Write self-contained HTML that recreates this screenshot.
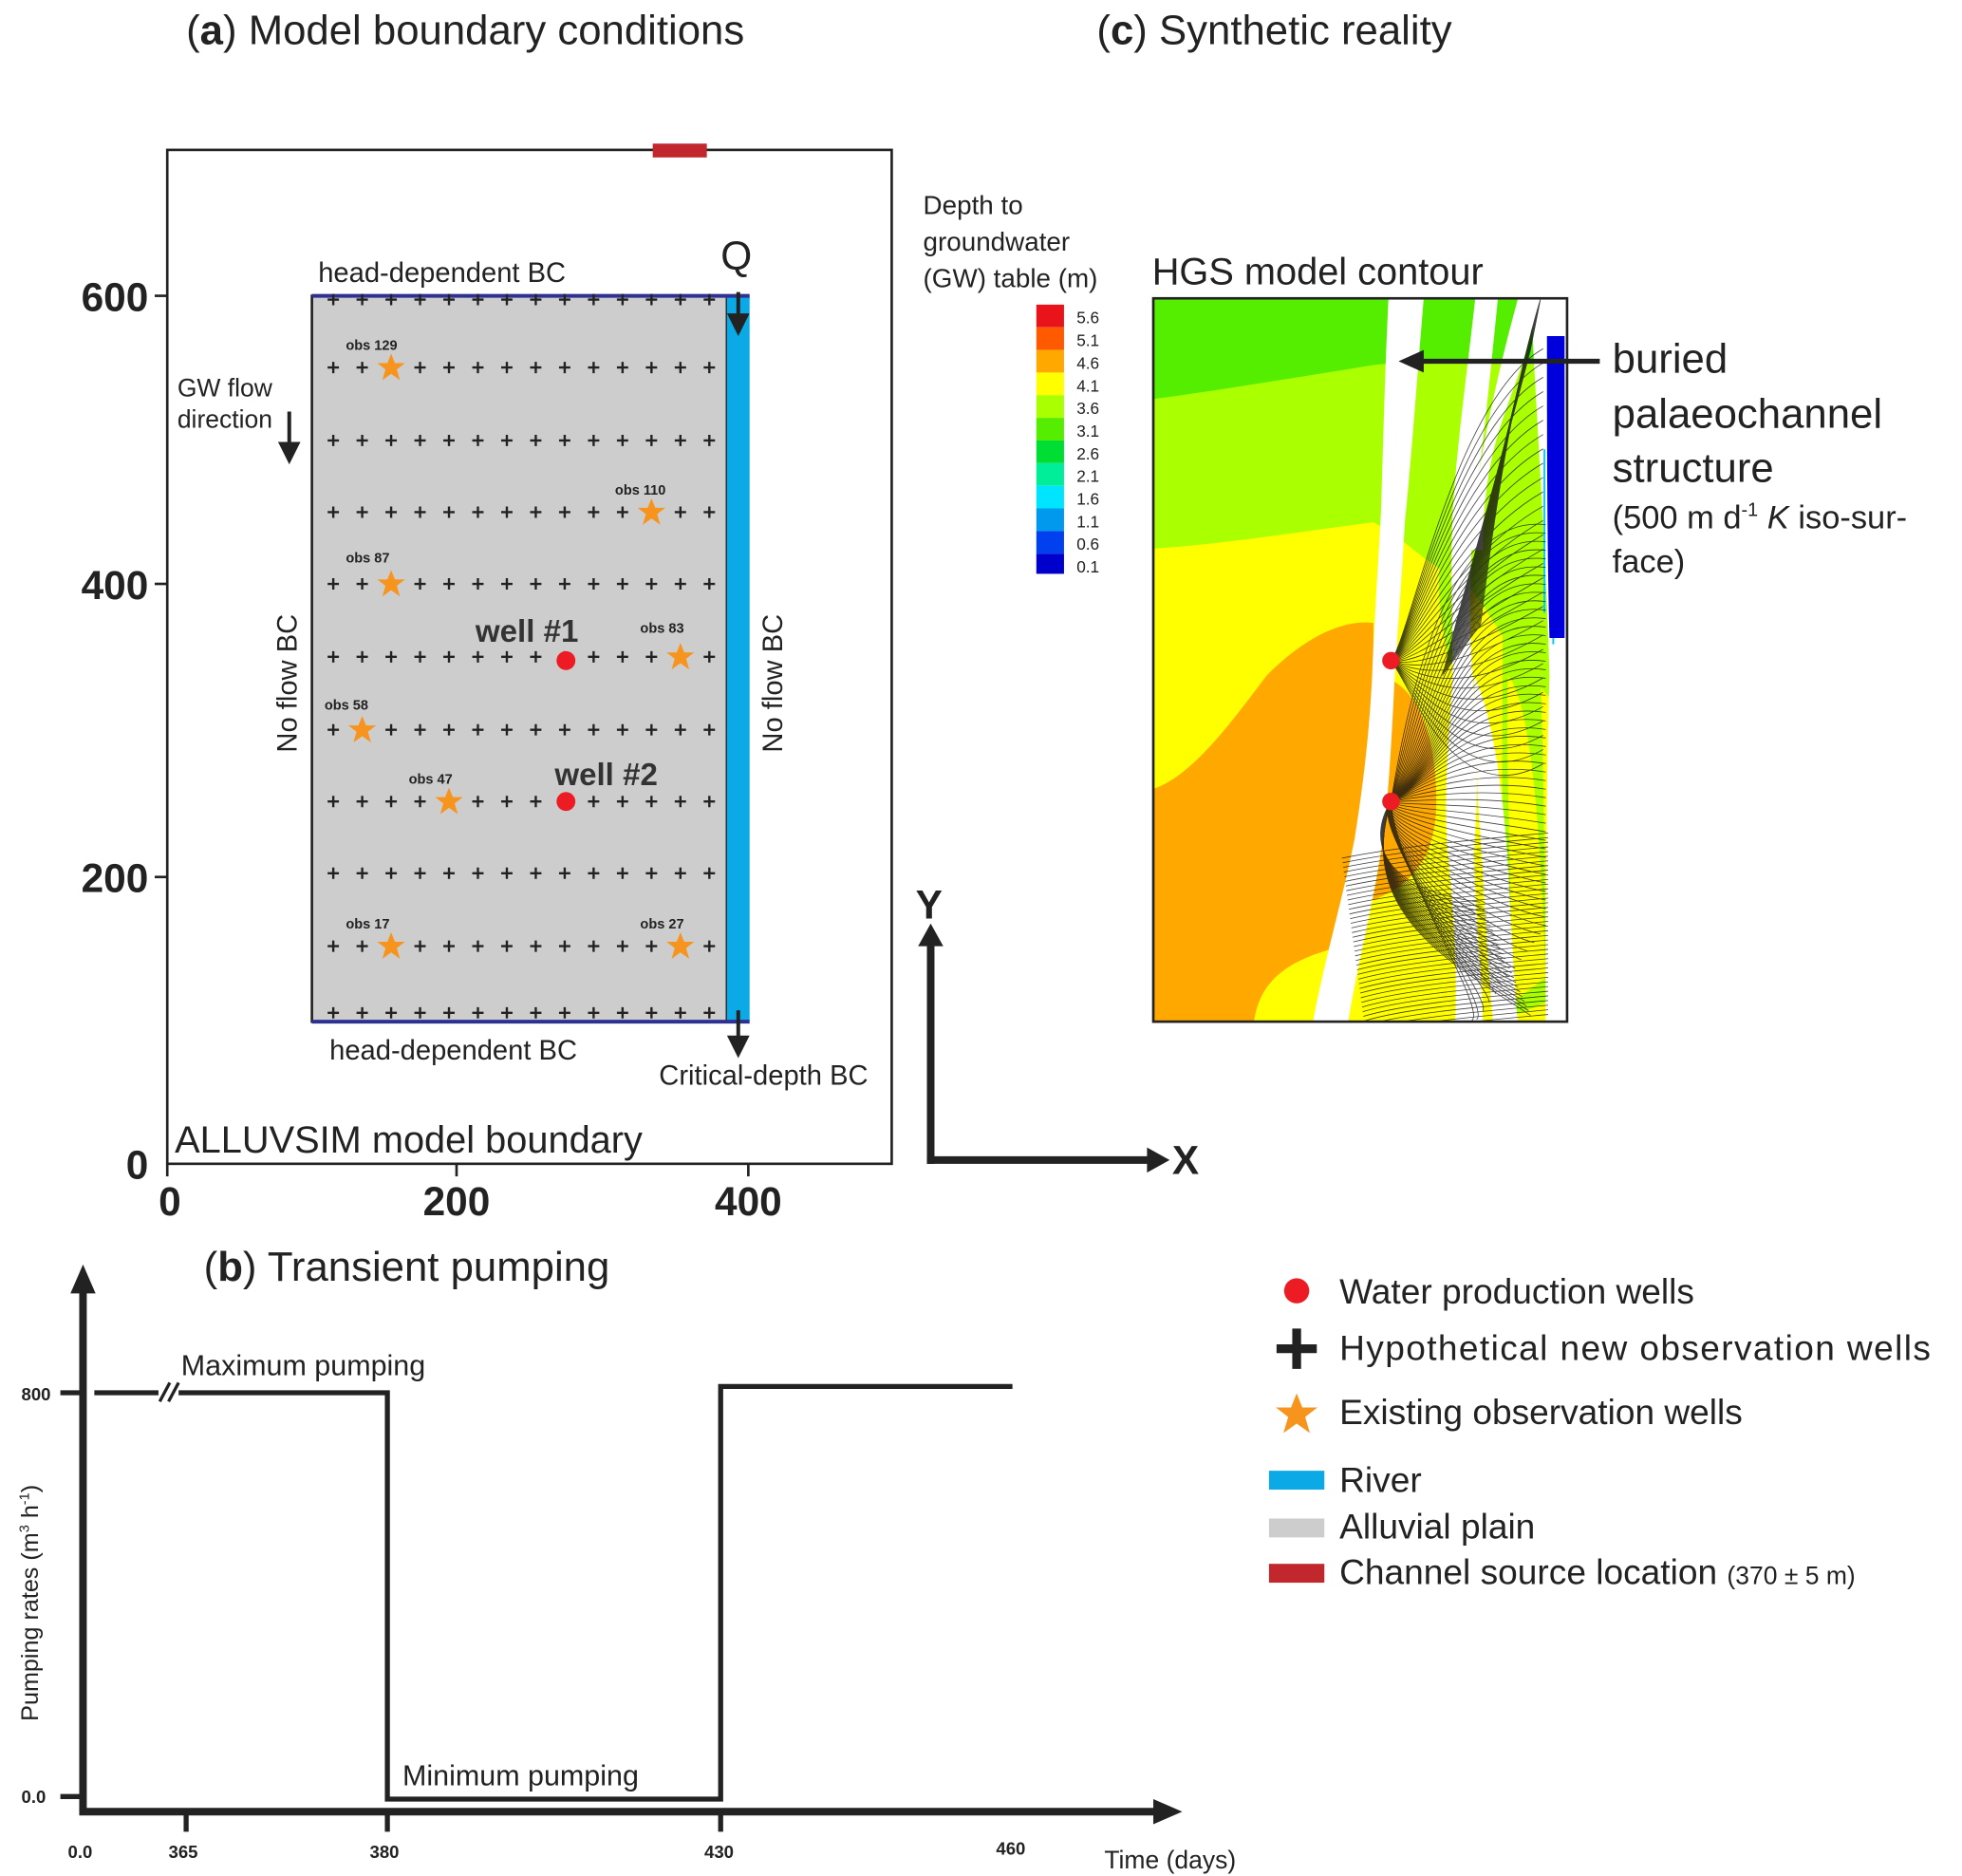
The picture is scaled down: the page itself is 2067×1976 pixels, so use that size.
<!DOCTYPE html>
<html><head><meta charset="utf-8"><style>html,body{margin:0;padding:0;background:#fff}svg{display:block}text{font-family:"Liberation Sans",Arial,sans-serif}</style></head><body>
<svg width="2067" height="1976" viewBox="0 0 1560 1491" xmlns="http://www.w3.org/2000/svg">
<defs>
<marker id="ah" markerWidth="6" markerHeight="6" refX="3" refY="3" orient="auto" markerUnits="strokeWidth"><path d="M0,0 L6,3 L0,6 z" fill="#222"/></marker>
<g id="st"><path d="M0,-11 L3,-3.5 L11,-3.5 L4.5,1.5 L7,10 L0,5 L-7,10 L-4.5,1.5 L-11,-3.5 L-3,-3.5 z" fill="#f7941d"/></g>
</defs>
<text x="148" y="35" font-size="33" fill="#222">(<tspan font-weight="bold">a</tspan>) Model boundary conditions</text>
<text x="872" y="35" font-size="33" fill="#222">(<tspan font-weight="bold">c</tspan>) Synthetic reality</text>
<text x="162" y="1018" font-size="33" fill="#222">(<tspan font-weight="bold">b</tspan>) Transient pumping</text>

<!-- panel a -->
<rect x="133" y="119" width="576" height="806" fill="none" stroke="#222" stroke-width="2"/>
<rect x="519" y="114" width="43" height="11" fill="#c1272d"/>
<rect x="248" y="235" width="330" height="577" fill="#cdcdcd" stroke="#222" stroke-width="2"/>
<rect x="578" y="235" width="18" height="577" fill="#0ba9e6"/>
<line x1="248" y1="235" x2="596" y2="235" stroke="#2e3192" stroke-width="3"/>
<line x1="248" y1="812" x2="596" y2="812" stroke="#2e3192" stroke-width="3"/>
<g font-weight="bold" font-size="32" fill="#222" text-anchor="end">
<text x="118" y="247">600</text><text x="118" y="476">400</text><text x="118" y="709">200</text><text x="118" y="937">0</text></g>
<g stroke="#222" stroke-width="2"><line x1="123" y1="235" x2="133" y2="235"/><line x1="123" y1="464" x2="133" y2="464"/><line x1="123" y1="697" x2="133" y2="697"/><line x1="133" y1="925" x2="133" y2="935"/><line x1="363" y1="925" x2="363" y2="935"/><line x1="595" y1="925" x2="595" y2="935"/></g>
<g font-weight="bold" font-size="32" fill="#222" text-anchor="middle"><text x="135" y="966">0</text><text x="363" y="966">200</text><text x="595" y="966">400</text></g>
<g id="crosses"></g>
<g>
<use href="#st" x="311" y="292"/><use href="#st" x="518" y="407"/><use href="#st" x="311" y="464"/><use href="#st" x="541" y="522"/><use href="#st" x="288" y="580"/><use href="#st" x="357" y="637"/><use href="#st" x="311" y="752"/><use href="#st" x="541" y="752"/>
</g>
<g font-size="11" font-weight="bold" fill="#222">
<text x="275" y="278">obs 129</text><text x="489" y="393">obs 110</text><text x="275" y="447">obs 87</text><text x="509" y="503">obs 83</text><text x="258" y="564">obs 58</text><text x="325" y="623">obs 47</text><text x="275" y="738">obs 17</text><text x="509" y="738">obs 27</text></g>
<circle cx="450" cy="525" r="7.5" fill="#ed1c24"/><circle cx="450" cy="637" r="7.5" fill="#ed1c24"/>
<text x="378" y="510" font-size="25" font-weight="bold" fill="#333">well #1</text>
<text x="441" y="624" font-size="25" font-weight="bold" fill="#333">well #2</text>
<text x="253" y="224" font-size="22" fill="#222">head-dependent BC</text>
<text x="262" y="842" font-size="22" fill="#222">head-dependent BC</text>
<text x="524" y="862" font-size="22" fill="#222">Critical-depth BC</text>
<text x="139" y="916" font-size="30" fill="#222">ALLUVSIM model boundary</text>
<text x="573" y="214" font-size="32" fill="#222">Q</text>
<line x1="587" y1="232" x2="587" y2="258" stroke="#222" stroke-width="3" marker-end="url(#ah)"/>
<line x1="587" y1="803" x2="587" y2="832" stroke="#222" stroke-width="3" marker-end="url(#ah)"/>
<text x="141" y="315" font-size="20" fill="#222">GW  flow</text>
<text x="141" y="340" font-size="20" fill="#222">direction</text>
<line x1="230" y1="327" x2="230" y2="360" stroke="#222" stroke-width="3" marker-end="url(#ah)"/>
<text transform="translate(236,598) rotate(-90)" font-size="22" fill="#222">No flow BC</text>
<text transform="translate(622,598) rotate(-90)" font-size="22" fill="#222">No flow BC</text>

<!-- XY axes -->
<path d="M740,925 V750" stroke="#222" stroke-width="6" fill="none"/><path d="M730,752 L740,734 L750,752 z" fill="#222"/>
<path d="M737,922 H915" stroke="#222" stroke-width="6" fill="none"/><path d="M912,912 L930,922 L912,932 z" fill="#222"/>
<text x="728" y="730" font-size="32" font-weight="bold" fill="#222">Y</text>
<text x="932" y="933" font-size="32" font-weight="bold" fill="#222">X</text>

<!-- panel c colorbar -->
<text x="734" y="170" font-size="21" fill="#222">Depth to</text>
<text x="734" y="199" font-size="21" fill="#222">groundwater</text>
<text x="734" y="228" font-size="21" fill="#222">(GW) table (m)</text>
<g>
<rect x="824" y="242" width="22" height="18" fill="#e8141a"/><rect x="824" y="260" width="22" height="18" fill="#ff5a00"/><rect x="824" y="278" width="22" height="18" fill="#ffa800"/><rect x="824" y="296" width="22" height="18" fill="#ffff00"/><rect x="824" y="314" width="22" height="18" fill="#aaff00"/><rect x="824" y="332" width="22" height="18" fill="#55ee00"/><rect x="824" y="350" width="22" height="18" fill="#00dd33"/><rect x="824" y="368" width="22" height="18" fill="#00ee99"/><rect x="824" y="386" width="22" height="18" fill="#00e5ff"/><rect x="824" y="404" width="22" height="18" fill="#0099ee"/><rect x="824" y="422" width="22" height="18" fill="#0040ee"/><rect x="824" y="440" width="22" height="16" fill="#0000cc"/>
</g>
<g font-size="13" fill="#222"><text x="856" y="257">5.6</text><text x="856" y="275">5.1</text><text x="856" y="293">4.6</text><text x="856" y="311">4.1</text><text x="856" y="329">3.6</text><text x="856" y="347">3.1</text><text x="856" y="365">2.6</text><text x="856" y="383">2.1</text><text x="856" y="401">1.6</text><text x="856" y="419">1.1</text><text x="856" y="437">0.6</text><text x="856" y="455">0.1</text></g>
<text x="916" y="226" font-size="30" fill="#222">HGS model contour</text>

<!-- contour map -->
<svg x="917" y="237" width="329" height="575" viewBox="0 0 329 575">
<rect width="329" height="575" fill="#ffa800"/>
<path d="M0,0 H329 V575 H155 C165,500 175,420 175,258 C150,255 120,270 90,300 C60,340 30,380 0,390 Z" fill="#ffff00"/>
<path d="M0,0 H329 V330 C290,300 260,230 240,220 C220,215 200,190 175,178 C120,185 60,195 0,199 Z" fill="#aaff00"/>
<path d="M0,0 H329 V50 C250,52 200,50 175,53 C100,65 40,75 0,80 Z" fill="#55ee00"/>
<path d="M175,300 C200,300 225,330 225,400 C225,450 200,470 170,480 Z" fill="#ffa800"/>
<path d="M80,575 C85,540 110,525 150,515 L150,575 Z" fill="#ffff00"/>
<!-- right zones -->
<path d="M245,0 C260,60 300,80 310,0 Z" fill="#55ee00"/>
<path d="M285,90 C300,120 310,200 312,560 L275,575 C280,480 275,300 280,160 Z" fill="#aaff00"/>
<path d="M282,300 C300,320 308,420 312,540 L285,560 C285,460 280,380 282,300 Z" fill="#ffff00"/>
<path d="M228,210 C245,230 255,250 250,280 L235,290 C230,260 225,240 228,210 Z" fill="#aaff00"/>
<!-- channels (white) -->
<path d="M187,0 H215 C210,60 205,130 200,178 C197,230 194,270 192,300 C190,340 188,380 184,420 C176,480 162,530 155,575 H127 C135,530 150,480 160,430 C168,380 172,340 174,300 C176,250 179,210 181,170 C183,110 184,60 187,0 Z" fill="#fff"/>
<path d="M256,0 H274 C268,60 262,120 255,170 C250,230 252,280 255,310 C258,360 258,400 255,440 C256,500 262,540 262,575 H240 C242,530 238,480 234,440 C230,390 236,340 238,300 C238,250 236,220 238,170 C242,110 250,55 256,0 Z" fill="#fff"/>
<path d="M300,0 H329 V575 H312 C312,470 313,360 315,300 C312,200 305,100 300,0 Z" fill="#fff"/>
<path d="M290,0 H305 C300,40 290,60 280,90 C265,130 262,170 262,200 L252,200 C255,150 268,80 290,0 Z" fill="#fff"/>
<path d="M255,300 C270,330 280,400 283,470 C286,520 288,560 290,575 H270 C265,520 262,450 258,400 Z" fill="#fff"/>
<path d="M313,30 H327 V270 H315 C313,200 313,100 313,30 Z" fill="#0000dd"/>
<path d="M318,270 V275 M311,120 V250" stroke="#00ccff" stroke-width="1.5"/>
<g id="streams" stroke="#111" stroke-width="0.6" fill="none" opacity="0.8"></g>
<circle cx="189" cy="288" r="7" fill="#ed1c24"/><circle cx="189" cy="400" r="7" fill="#ed1c24"/>
</svg>
<rect x="917" y="237" width="329" height="575" fill="none" stroke="#222" stroke-width="2"/>
<line x1="1272" y1="287" x2="1125" y2="287" stroke="#222" stroke-width="4"/><path d="M1132,278 L1112,287 L1132,296 z" fill="#222"/>
<text x="1282" y="296" font-size="33" fill="#222">buried</text>
<text x="1282" y="340" font-size="33" fill="#222">palaeochannel</text>
<text x="1282" y="383" font-size="33" fill="#222">structure</text>
<text x="1282" y="420" font-size="26" fill="#222">(500 m d<tspan font-size="15" dy="-10">-1</tspan><tspan dy="10"> </tspan><tspan font-style="italic">K</tspan> iso-sur-</text>
<text x="1282" y="455" font-size="26" fill="#222">face)</text>

<!-- legend -->
<circle cx="1031" cy="1026" r="10" fill="#ed1c24"/>
<text x="1065" y="1036" font-size="28" fill="#222">Water production wells</text>
<path d="M1015,1072 h32 M1031,1056 v32" stroke="#222" stroke-width="7"/>
<text x="1065" y="1081" font-size="28" fill="#222" textLength="470">Hypothetical new observation wells</text>
<use href="#st" transform="translate(1031,1124) scale(1.5)"/>
<text x="1065" y="1132" font-size="28" fill="#222">Existing observation wells</text>
<rect x="1009" y="1169" width="44" height="15" fill="#0ba9e6"/>
<text x="1065" y="1186" font-size="28" fill="#222">River</text>
<rect x="1009" y="1207" width="44" height="15" fill="#cdcdcd"/>
<text x="1065" y="1223" font-size="28" fill="#222">Alluvial plain</text>
<rect x="1009" y="1243" width="44" height="15" fill="#c1272d"/>
<text x="1065" y="1259" font-size="28" fill="#222">Channel source location <tspan font-size="20">(370 ± 5 m)</tspan></text>

<!-- panel b -->
<path d="M66,1440 V1025" stroke="#222" stroke-width="6" fill="none"/><path d="M56,1028 L66,1005 L76,1028 z" fill="#222"/>
<path d="M63,1440 H920" stroke="#222" stroke-width="6" fill="none"/><path d="M917,1430 L940,1440 L917,1450 z" fill="#222"/>
<path d="M48,1107 H66 M48,1428 H66" stroke="#222" stroke-width="4"/>
<path d="M75,1107 H308 V1430 H573 V1102 H805" stroke="#222" stroke-width="4" fill="none"/>
<rect x="126" y="1098" width="16" height="18" fill="#fff"/>
<path d="M127,1114 L135,1099 M134,1114 L142,1099" stroke="#222" stroke-width="2.5"/>
<path d="M148,1440 V1456 M308,1440 V1456 M573,1440 V1456" stroke="#222" stroke-width="4"/>
<g font-size="14" font-weight="bold" fill="#222"><text x="17" y="1113">800</text><text x="17" y="1433">0.0</text>
<text x="54" y="1477">0.0</text><text x="134" y="1477">365</text><text x="294" y="1477">380</text><text x="560" y="1477">430</text><text x="792" y="1474">460</text></g>
<text x="144" y="1093" font-size="23" fill="#222">Maximum pumping</text>
<text x="320" y="1419" font-size="23" fill="#222">Minimum pumping</text>
<text x="878" y="1485" font-size="20" fill="#222">Time (days)</text>
<text transform="translate(30,1368) rotate(-90)" font-size="19" fill="#222">Pumping rates (m<tspan font-size="11" dy="-7">3</tspan><tspan dy="7"> h</tspan><tspan font-size="11" dy="-7">-1</tspan><tspan dy="7">)</tspan></text>
</svg>
<script>
(function(){var ns='http://www.w3.org/2000/svg';
var g=document.getElementById('crosses'),ys=[238,292,350,407,464,522,580,637,694,752,805];
ys.forEach(function(y){for(var i=0;i<14;i++){var x=265+23*i;var p=document.createElementNS(ns,'path');p.setAttribute('d','M'+(x-4.5)+','+y+'h9M'+x+','+(y-4.5)+'v9');p.setAttribute('stroke','#222');p.setAttribute('stroke-width','1.8');g.appendChild(p);}});
var s=document.getElementById('streams');function add(d){var p=document.createElementNS(ns,'path');p.setAttribute('d',d);s.appendChild(p);}
var i,t,y,a;
// radiating from well2
for(i=0;i<60;i++){t=i/59;y=180+t*400;var ex=312-(t>0.8?(t-0.8)*300:0);
add('M189,400 C'+(200+30*Math.sin(t*6))+','+(400+(y-400)*0.3)+' '+(230+40*t)+','+(y-10)+' '+ex+','+(y>575?575:y));}
// loops below well2
for(i=0;i<25;i++){t=i/24;add('M189,400 C'+(170-10*t)+','+(430+60*t)+' '+(180+60*t)+','+(470+60*t)+' '+(260+40*t)+','+(480+90*t));}
// from well1
for(i=0;i<30;i++){t=i/29;y=40+t*330;add('M189,288 C205,'+(288-20+40*t)+' '+(240)+','+(y+40)+' '+(310)+','+y);}
// bottom horizontal flow
for(i=0;i<40;i++){y=430+i*3.7;add('M'+(150+i*0.5)+','+(y+15)+' C200,'+(y+5)+' 260,'+y+' 314,'+(y-5));}
// upper right diagonal lines
for(i=0;i<30;i++){t=i/29;add('M'+(230+t*30)+','+(300-t*40)+' C'+(255+t*20)+','+(200-t*60)+' '+(280+t*10)+','+(120-t*60)+' '+(300+t*8)+','+(40-t*40));}
})();
</script>
</body></html>
